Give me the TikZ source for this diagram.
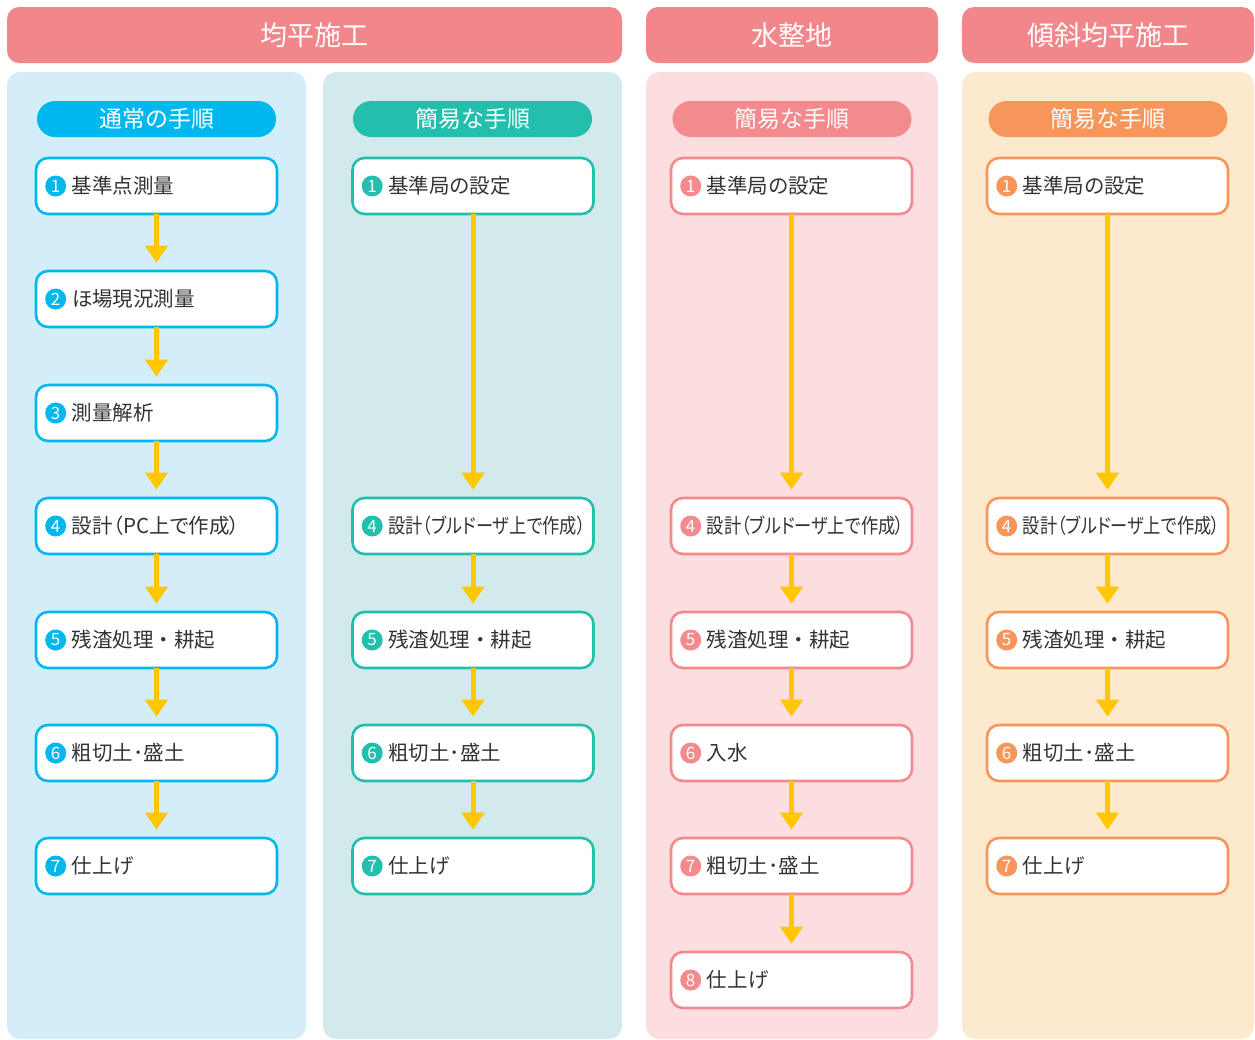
\documentclass[tikz,border=0pt]{standalone}
\usepackage{fontspec}
\setmainfont{Noto Sans CJK JP}
\newfontfamily\jpp[RawFeature=+palt]{Noto Sans CJK JP}
\usetikzlibrary{arrows.meta}
\definecolor{hdrc}{HTML}{F2878B}
\definecolor{cA}{HTML}{00B8EE}\definecolor{pA}{HTML}{D3EEF9}
\definecolor{cB}{HTML}{22BFAD}\definecolor{pB}{HTML}{D2EAEB}
\definecolor{cC}{HTML}{F28A8E}\definecolor{pC}{HTML}{FCDDE0}
\definecolor{cD}{HTML}{F7965A}\definecolor{pD}{HTML}{FDEACE}
\definecolor{arrc}{HTML}{FFC700}
\definecolor{txtc}{HTML}{333333}
\tikzset{
  hdr/.style={fill=hdrc, rounded corners=12pt},
  hdrt/.style={text=white, font=\fontsize{27}{30}\selectfont},
  pnl/.style={fill=#1, rounded corners=13pt},
  pill/.style={fill=#1, rounded corners=18pt, minimum width=239pt, minimum height=36pt, inner sep=0pt, text=white, font=\fontsize{23}{26}\selectfont},
  stepbox/.style={draw=#1, line width=2.6pt, fill=white, rounded corners=12pt, minimum width=241pt, minimum height=56pt, inner sep=0pt},
  numc/.style={circle, fill=#1, minimum size=21pt, inner sep=0pt, text=white, font=\fontsize{17}{17}\selectfont},
  lbl/.style={anchor=west, inner sep=0pt, text=txtc, font=\jpp\fontsize{20.5}{22}\selectfont},
  arr/.style={draw=arrc, line width=5pt, -{Triangle[width=22pt,length=17pt]}},
}
\newcommand{\stepnode}[6]{% name, color, x, y, number, text
  \node[stepbox=#2] (#1) at (#3,#4) {};
  \node[numc=#2] (#1n) at ([xshift=21pt]#1.west) {#5};
  \node[lbl] (#1t) at ([xshift=37pt]#1.west) {#6};
}
\newcommand{\zdot}{{\normalfont ・}}
\newcommand{\bulldoz}{\scalebox{0.84}[1]{設計（ブルドーザ上で作成）}}
\begin{document}
\begin{tikzpicture}[x=1pt,y=-1pt]
\useasboundingbox (0,0) rectangle (1255,1039);
% headers
\fill[hdr] (7,7) rectangle (622,63);
\node[hdrt] (h1) at (314.5,35) {均平施工};
\fill[hdr] (646,7) rectangle (938,63);
\node[hdrt] (h2) at (792,35) {水整地};
\fill[hdr] (962,7) rectangle (1254,63);
\node[hdrt] (h3) at (1108,35) {傾斜均平施工};
% panels
\fill[pnl=pA] (7,72) rectangle (306,1039);
\fill[pnl=pB] (323,72) rectangle (622,1039);
\fill[pnl=pC] (646,72) rectangle (938,1039);
\fill[pnl=pD] (962,72) rectangle (1254,1039);
% pills
\node[pill=cA] (pa) at (156.5,119) {通常の手順};
\node[pill=cB] (pb) at (472.5,119) {簡易な手順};
\node[pill=cC] (pc) at (792,119) {簡易な手順};
\node[pill=cD] (pd) at (1108,119) {簡易な手順};
% column 1
\stepnode{a1}{cA}{156.5}{186}{1}{基準点測量}
\stepnode{a2}{cA}{156.5}{299}{2}{ほ場現況測量}
\stepnode{a3}{cA}{156.5}{413}{3}{測量解析}
\stepnode{a4}{cA}{156.5}{526}{4}{設計（PC上で作成）}
\stepnode{a5}{cA}{156.5}{640}{5}{残渣処理\zdot 耕起}
\stepnode{a6}{cA}{156.5}{753}{6}{粗切土･盛土}
\stepnode{a7}{cA}{156.5}{866}{7}{仕上げ}
% column 2
\stepnode{b1}{cB}{473}{186}{1}{基準局の設定}
\stepnode{b4}{cB}{473}{526}{4}{\bulldoz}
\stepnode{b5}{cB}{473}{640}{5}{残渣処理\zdot 耕起}
\stepnode{b6}{cB}{473}{753}{6}{粗切土･盛土}
\stepnode{b7}{cB}{473}{866}{7}{仕上げ}
% column 3
\stepnode{c1}{cC}{791.5}{186}{1}{基準局の設定}
\stepnode{c4}{cC}{791.5}{526}{4}{\bulldoz}
\stepnode{c5}{cC}{791.5}{640}{5}{残渣処理\zdot 耕起}
\stepnode{c6}{cC}{791.5}{753}{6}{入水}
\stepnode{c7}{cC}{791.5}{866}{7}{粗切土･盛土}
\stepnode{c8}{cC}{791.5}{980}{8}{仕上げ}
% column 4
\stepnode{d1}{cD}{1107.5}{186}{1}{基準局の設定}
\stepnode{d4}{cD}{1107.5}{526}{4}{\bulldoz}
\stepnode{d5}{cD}{1107.5}{640}{5}{残渣処理\zdot 耕起}
\stepnode{d6}{cD}{1107.5}{753}{6}{粗切土･盛土}
\stepnode{d7}{cD}{1107.5}{866}{7}{仕上げ}
% arrows
\foreach \s/\t in {a1/a2,a2/a3,a3/a4,a4/a5,a5/a6,a6/a7,
                   b1/b4,b4/b5,b5/b6,b6/b7,
                   c1/c4,c4/c5,c5/c6,c6/c7,c7/c8,
                   d1/d4,d4/d5,d5/d6,d6/d7}
  \draw[arr] ([yshift=1.5pt]\s.south) -- ([yshift=7pt]\t.north);
\end{tikzpicture}
\end{document}
